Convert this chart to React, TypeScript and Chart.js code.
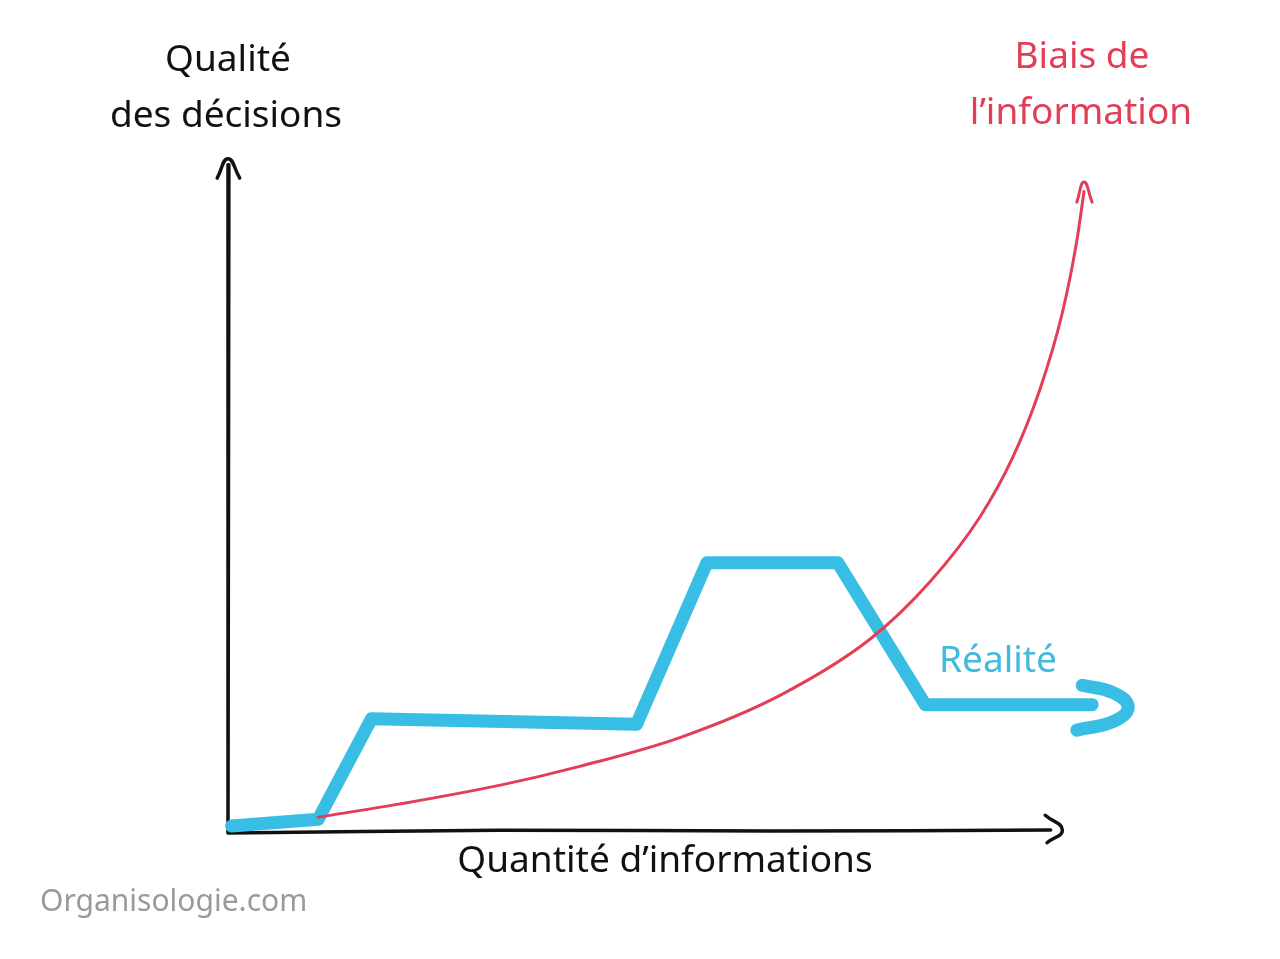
import React, { useEffect, useRef } from "react";
import { Chart, registerables } from "chart.js";

Chart.register(...registerables);

// Data in chart units: x = quantity of information (0..100), y = decision quality (0..100)
const realiteX = [0.4, 10.0, 15.9, 45.3, 53.1, 67.6, 77.3, 95.8];
const realiteY = [0.6, 1.6, 16.6, 15.8, 39.9, 39.9, 18.7, 18.7];

const hookX = [94.7, 98.1, 99.8, 98.3, 94.1];
const hookY = [21.6, 20.5, 18.4, 16.3, 14.9];

const biaisX = [10.0, 19.1, 30.2, 39.0, 50.1, 61.2, 71.2, 77.8, 83.4, 87.0, 90.0, 92.5, 94.1, 94.9];
const biaisY = [1.9, 3.9, 6.7, 9.5, 13.8, 20.1, 28.5, 37.0, 46.8, 55.6, 65.7, 77.2, 87.9, 95.3];

const biaisHeadX = [94.1, 94.9, 95.8];
const biaisHeadY = [93.7, 96.7, 93.7];

const yAxisX = [0.1, 0.0];
const yAxisY = [99.3, -0.3];
const yHeadX = [-1.2, 0.0, 1.3];
const yHeadY = [97.3, 100.2, 97.3];

const xAxisX = [0.0, 30.0, 60.0, 91.2];
const xAxisY = [-0.45, -0.05, -0.15, 0.0];
const xHeadX = [90.6, 92.5, 90.8];
const xHeadY = [2.2, 0.0, -1.9];

const yTitle = ["Qualité", "des décisions"];
const biaisLabel = ["Biais de", "l’information"];
const realiteLabel = "Réalité";
const xTitle = "Quantité d’informations";
const credit = "Organisologie.com";

const BLUE = "rgb(56,190,228)";
const RED = "rgb(226,62,86)";
const BLACK = "#111111";

const pts = (xs: number[], ys: number[]) => xs.map((x, i) => ({ x, y: ys[i] }));

const FONT = '"Noto Sans", sans-serif';

const textPlugin = {
  id: "sketchText",
  afterDraw(chart: any) {
    const ctx = chart.ctx;
    ctx.save();
    ctx.textAlign = "center";
    ctx.textBaseline = "middle";
    ctx.font = `37px ${FONT}`;
    ctx.fillStyle = BLACK;
    ctx.fillText(yTitle[0], 228, 60);
    ctx.fillText(yTitle[1], 226, 116);
    ctx.fillText(xTitle, 665, 861);
    ctx.fillStyle = RED;
    ctx.fillText(biaisLabel[0], 1082, 57);
    ctx.fillText(biaisLabel[1], 1081, 113);
    ctx.fillStyle = "rgb(64,186,222)";
    ctx.fillText(realiteLabel, 998, 661);
    ctx.textAlign = "left";
    ctx.fillStyle = "#9a9a9a";
    ctx.font = `30px ${FONT}`;
    ctx.fillText(credit, 40, 902);
    ctx.restore();
  },
};

export default function App() {
  const ref = useRef<HTMLCanvasElement | null>(null);

  useEffect(() => {
    if (!ref.current) return;
    const line = (data: any[], color: string, width: number, tension: number, order: number) => ({
      data,
      borderColor: color,
      backgroundColor: color,
      borderWidth: width,
      pointRadius: 0,
      tension,
      fill: false,
      clip: false as any,
      borderCapStyle: "round",
      borderJoinStyle: "round",
      order,
    });
    const chart = new Chart(ref.current, {
      type: "line",
      data: {
        datasets: [
          {
            label: "Biais de l’information",
            ...line(pts(biaisX, biaisY), RED, 3, 0.4, 0),
            cubicInterpolationMode: "monotone",
          },
          { label: "biais-head", ...line(pts(biaisHeadX, biaisHeadY), RED, 3, 0.5, 0) },
          { label: "Réalité", ...line(pts(realiteX, realiteY), BLUE, 13, 0, 1) },
          { label: "réalité-hook", ...line(pts(hookX, hookY), BLUE, 13, 0.45, 1) },
          { label: "y-axis", ...line(pts(yAxisX, yAxisY), BLACK, 3.5, 0, 2) },
          { label: "y-head", ...line(pts(yHeadX, yHeadY), BLACK, 3.5, 0.5, 2) },
          { label: "x-axis", ...line(pts(xAxisX, xAxisY), BLACK, 3.5, 0.4, 2) },
          { label: "x-head", ...line(pts(xHeadX, xHeadY), BLACK, 3.5, 0.5, 2) },
        ] as any,
      },
      options: {
        animation: false,
        responsive: true,
        maintainAspectRatio: false,
        layout: { padding: { left: 228, right: 150, top: 160, bottom: 129 } },
        scales: {
          x: { type: "linear", min: 0, max: 100, display: false },
          y: { type: "linear", min: 0, max: 100, display: false },
        },
        plugins: {
          legend: { display: false },
          tooltip: { enabled: false },
        },
      },
      plugins: [textPlugin],
    });
    return () => chart.destroy();
  }, []);

  return (
    <div style={{ position: "fixed", left: 0, top: 0, width: 1280, height: 959, background: "#ffffff" }}>
      <canvas ref={ref} />
    </div>
  );
}
